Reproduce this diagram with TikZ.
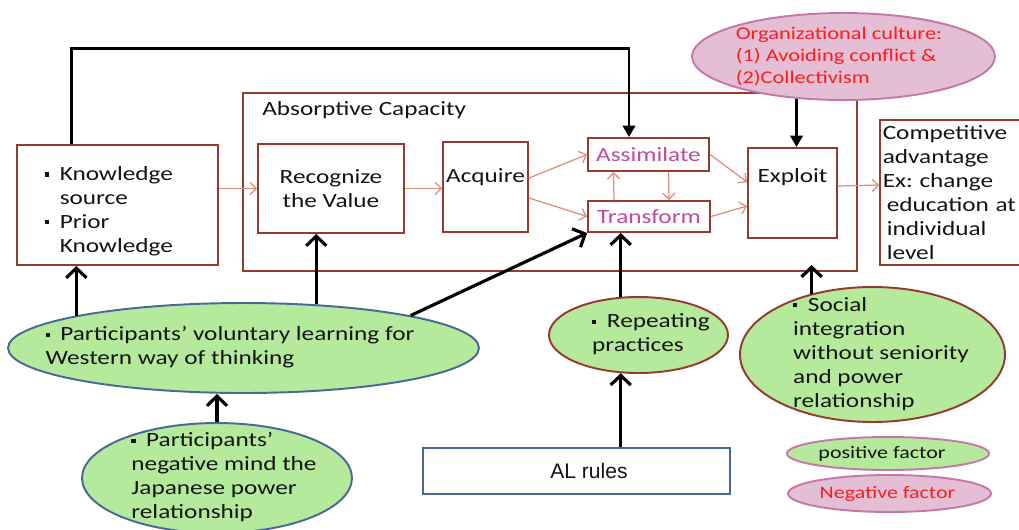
\documentclass[tikz,border=0pt]{standalone}
\usepackage{fontspec}
\setmainfont{Carlito}[FakeStretch=1.25]
\newfontfamily\arialfont{Liberation Sans}
\usetikzlibrary{shapes.geometric,arrows.meta}
\frenchspacing

\definecolor{boxbrown}{RGB}{148,58,46}
\definecolor{linksalmon}{RGB}{222,140,120}
\definecolor{factorgreen}{RGB}{181,234,157}
\definecolor{factorpink}{RGB}{228,190,212}
\definecolor{pinkedge}{RGB}{196,120,168}
\definecolor{blueedge}{RGB}{72,104,152}
\definecolor{stepviolet}{RGB}{190,75,160}
\definecolor{warnred}{RGB}{250,30,30}
\definecolor{inktext}{RGB}{20,20,20}

\newcommand{\sqbul}{\raisebox{2.3pt}{\rule{2.4pt}{2.4pt}}\hspace{6pt}}
\newcommand{\ovaltext}[2][0pt]{\smash{\raisebox{-3pt}{\makebox[0pt][l]{\hspace*{#1}\makebox[0pt]{\begin{tabular}{@{}l@{}}#2\end{tabular}}}}}}

\begin{document}
\begin{tikzpicture}[
x=0.02cm, y=-0.02cm,
every node/.style={text=inktext, font=\fontsize{11.5}{13.6}\selectfont},
acbox/.style={rectangle, draw=boxbrown, line width=1.1pt, fill=white},
stagebox/.style={acbox, text=stepviolet, inner ysep=1pt},
plusfactor/.style={ellipse, draw=blueedge, fill=factorgreen, line width=1.1pt, inner sep=0pt},
minusfactor/.style={ellipse, draw=pinkedge, fill=factorpink, line width=1.1pt, inner sep=0pt, text=warnred},
flow/.style={draw=linksalmon, line width=0.7pt, -{Straight Barb[length=3.5pt,width=7pt]}},
push/.style={draw=black, line width=1.8pt, -{Straight Barb[length=5.5pt,width=11.5pt]}},
feed/.style={draw=black, line width=1.7pt, -{Triangle[length=6.5pt,width=7pt]}},
]
\path[use as bounding box, fill=white] (0,0) rectangle (1019,529);

% Nodes
\node[acbox, minimum width=12.28cm, minimum height=3.56cm] (absorb) at (550,182) {};
\node[anchor=base west, inner sep=0pt] (abslabel) at (262,115) {Absorptive Capacity};

\node[acbox, text width=2.9cm, inner xsep=0.56cm, minimum height=2.4cm, align=left] (source) at (117.5,205)
  {\rule{0pt}{15pt}\sqbul Knowledge\\ \phantom{\sqbul}source\\ \sqbul Prior\\ \phantom{\sqbul}Knowledge};
\node[acbox, minimum width=2.92cm, minimum height=1.78cm, align=center] (recog) at (331,188.5) {Recognize\\the Value};
\node[acbox, minimum width=1.7cm, minimum height=1.8cm, inner xsep=0.5pt] (acquire) at (485.5,187) {\rule[-13.4pt]{0pt}{1pt}Acquire};
\node[stagebox, minimum width=2.42cm, minimum height=0.66cm] (assim) at (648.5,154.5) {Assimilate};
\node[stagebox, minimum width=2.44cm, minimum height=0.62cm] (transf) at (649,216.5) {Transform};
\node[acbox, minimum width=1.78cm, minimum height=1.8cm] (exploit) at (792.5,193) {\rule[-20pt]{0pt}{1pt}Exploit};
\node[acbox, text width=2.79cm, inner xsep=1.5pt, minimum height=2.86cm, align=left] (compet) at (952.5,192.5)
  {Competitive\\advantage\\Ex: change\\ \hspace*{2.3pt}education at\\ \hspace*{2.3pt}individual\\ \hspace*{2.3pt}level};

\node[minusfactor, minimum width=6.06cm, minimum height=1.74cm, font=\fontsize{10.2}{12.5}\selectfont] (orgcult) at (843.5,56.5)
  {\ovaltext[-0.09cm]{Organizational culture:\\(1) Avoiding conflict \&\\(2)Collectivism}};

\node[plusfactor, minimum width=9.42cm, minimum height=1.8cm] (volunt) at (243.5,348)
  {\ovaltext[-0.27cm]{\sqbul Participants’ voluntary learning for\\Western way of thinking}};
\node[plusfactor, minimum width=5.4cm, minimum height=2.2cm] (negmind) at (217,478)
  {\ovaltext[0.14cm]{\sqbul Participants’\\negative mind the\\Japanese power\\relationship}};
\node[plusfactor, draw=boxbrown, minimum width=3.58cm, minimum height=1.52cm] (repeat) at (638.5,335)
  {\ovaltext[0.25cm]{\sqbul Repeating\\practices}};
\node[plusfactor, draw=boxbrown, minimum width=5.3cm, minimum height=2.7cm] (social) at (872.5,354.5)
  {\ovaltext[0.17cm]{\sqbul Social\\integration\\without seniority\\and power\\relationship}};

\node[rectangle, draw=blueedge, line width=1.1pt, fill=white, minimum width=6.14cm, minimum height=0.92cm,
  font=\arialfont\fontsize{12}{14}\selectfont] (alrules) at (576.5,471) {\hspace*{0.5cm}AL rules};

% Legend
\node[plusfactor, draw=pinkedge, minimum width=4.04cm, minimum height=0.66cm, font=\fontsize{10}{12}\selectfont] (posleg) at (888,453.5)
  {\ovaltext[-0.12cm]{positive factor}};
\node[minusfactor, minimum width=4.06cm, minimum height=0.74cm, font=\fontsize{10}{12}\selectfont] (negleg) at (889.5,493.5)
  {\ovaltext[-0.04cm]{Negative factor}};

% Arrows
\draw[flow] (source.east |- recog.west) -- (recog.west);
\draw[flow] (recog.east) -- (recog.east -| acquire.west);
\draw[flow] ([yshift=0.18cm]acquire.east) -- (assim.west);
\draw[flow] ([yshift=-0.22cm]acquire.east) -- (transf.west);
\draw[flow] ([xshift=-0.7cm]transf.north) -- ([xshift=-0.7cm]assim.south);
\draw[flow] ([xshift=0.4cm]assim.south) -- ([xshift=0.4cm]transf.north);
\draw[flow] (assim.east) -- ([yshift=0.22cm]exploit.west);
\draw[flow] (transf.east) -- ([yshift=-0.26cm]exploit.west);
\draw[flow] ([yshift=0.14cm]exploit.east) -- ([yshift=0.15cm]compet.west);

\coordinate (topturn) at (629,48);
\draw[feed] ([xshift=1.1cm]source.north west) |- (topturn) -- (topturn |- assim.north);
\draw[feed] (orgcult.222) -- (orgcult.222 |- exploit.north);

\draw[push] (volunt.169) -- (volunt.169 |- source.south);
\draw[push] (volunt.31) -- (volunt.31 |- recog.south);
\draw[push] (volunt.11) -- (transf.south west);
\draw[push] (negmind.north) -- (negmind.north |- volunt.south);
\draw[push] (repeat.115) -- (repeat.115 |- transf.south);
\draw[push] (alrules.north -| repeat.245) -- (repeat.245);
\coordinate (socialtip) at (813,265);
\draw[push] (social.135) -- (social.135 |- socialtip);

\end{tikzpicture}
\end{document}
